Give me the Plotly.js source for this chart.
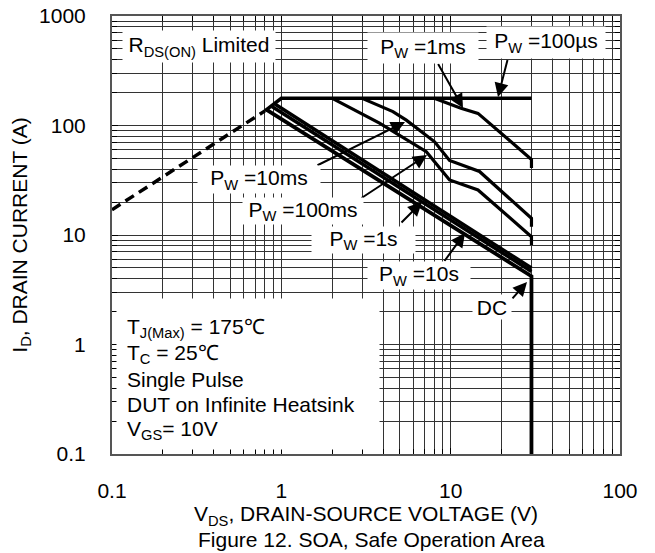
<!DOCTYPE html>
<html><head><meta charset="utf-8">
<script src="https://cdn.plot.ly/plotly-3.0.1.min.js"></script>
<style>html,body{margin:0;padding:0;background:#fff}#chart{width:655px;height:553px}</style>
</head><body><div id="chart"></div>
<script>
// ---- data (V in volts, I in amperes) ----
const rdsLimitV = [0.1, 0.8];
const rdsLimitI = [17, 136];
const pw100usV = [0.8, 1.0, 30];
const pw100usI = [136, 177, 177];
const pw1msV = [8.0, 11.5, 14.5, 30, 30];
const pw1msI = [177, 144, 129, 49, 41];
const pw10msV = [3.0, 4.56, 5.47, 8.04, 9.85, 14.8, 30, 30];
const pw10msI = [177, 134, 112, 71, 48, 38, 14.2, 11.9];
const pw100msV = [2.0, 3.8, 7.18, 9.85, 14.5, 30, 30];
const pw100msI = [177, 105, 57.6, 31.8, 25.8, 9.65, 8.1];
const pw1sV = [0.92, 30];
const pw1sI = [156, 5.0];
const pw10sV = [0.88, 30];
const pw10sI = [149, 4.65];
const dcV = [0.82, 30, 30];
const dcI = [139, 4.2, 0.1];

const xTickVals = [0.1, 1, 10, 100];
const xTickText = ['0.1', '1', '10', '100'];
const yTickVals = [0.1, 1, 10, 100, 1000];
const yTickText = ['0.1', '1', '10', '100', '1000'];
const xMinorVals = [0.2,0.3,0.4,0.5,0.6,0.7,0.8,0.9,2,3,4,5,6,7,8,9,20,30,40,50,60,70,80,90];
const yMinorVals = [0.2,0.3,0.4,0.5,0.6,0.7,0.8,0.9,2,3,4,5,6,7,8,9,20,30,40,50,60,70,80,90,200,300,400,500,600,700,800,900];

// ---- layout helpers (plot area in pixels) ----
const PL = 112, PR = 620, PT = 16, PB = 454;
const px = v => (v - PL) / (PR - PL);
const py = v => (PB - v) / (PB - PT);
const FONT = 'Liberation Sans, Arial, Helvetica, sans-serif';

function line(x, y, w, dash) {
  return {x: x, y: y, type: 'scatter', mode: 'lines', hoverinfo: 'skip',
          line: {color: '#000', width: w, dash: dash || 'solid'}};
}
const traces = [
  line(rdsLimitV, rdsLimitI, 3.5, '10px,6px'),
  line(pw100usV, pw100usI, 3.5),
  line(pw1msV, pw1msI, 3.2),
  line(pw10msV, pw10msI, 3.2),
  line(pw100msV, pw100msI, 3.2),
  line(pw1sV, pw1sI, 3.5),
  line(pw10sV, pw10sI, 3.5),
  line(dcV, dcI, 3.8)
];

// arrows: tail -> head (pixels)
const arrows = [
  [[508, 58], [498, 97]],
  [[437, 62], [463, 108]],
  [[316, 166], [405, 122]],
  [[360, 199], [427, 155]],
  [[400, 224], [422, 202]],
  [[443, 263], [465, 233]],
  [[511, 300], [527, 282]]
];
// labels: text, center px, box w,h
const labels = [
  ['R<sub>DS(ON)</sub> Limited', 199, 46, 152, 31],
  ['P<sub>W</sub> =1ms', 423, 48, 110, 30],
  ['P<sub>W</sub> =100µs', 546, 42, 118, 31],
  ['P<sub>W</sub> =10ms', 259, 179, 122, 27],
  ['P<sub>W</sub> =100ms', 303, 211, 120, 26],
  ['P<sub>W</sub> =1s', 363, 240, 103, 26],
  ['P<sub>W</sub> =10s', 419, 275, 102, 27],
  ['DC', 492, 307, 38, 24]
];
const noteLines = ['T<sub>J(Max)</sub> = 175℃', 'T<sub>C</sub> = 25℃', 'Single Pulse',
                   'DUT on Infinite Heatsink', 'V<sub>GS</sub>= 10V'];

const ann = [];
arrows.forEach(a => {
  ann.push({xref: 'paper', yref: 'paper', x: px(a[1][0]), y: py(a[1][1]),
            ax: a[0][0] - a[1][0], ay: a[0][1] - a[1][1], text: ' ', font: {size: 1},
            showarrow: true, arrowhead: 2, arrowsize: 1.4, arrowwidth: 2, arrowcolor: '#000'});
});
labels.forEach(l => {
  ann.push({xref: 'paper', yref: 'paper', x: px(l[1]), y: py(l[2]), xanchor: 'center', yanchor: 'middle',
            text: l[0], showarrow: false, bgcolor: '#fff', width: l[3], height: l[4], borderpad: 0,
            font: {family: FONT, size: 21, color: '#000'}});
});
// white box behind the notes
ann.push({xref: 'paper', yref: 'paper', x: px(116), y: py(298), xanchor: 'left', yanchor: 'top',
          text: ' ', showarrow: false, bgcolor: '#fff', width: 262, height: 150, borderpad: 0});
noteLines.forEach((t, i) => {
  ann.push({xref: 'paper', yref: 'paper', x: px(125), y: py(328 + i * 25.5), xanchor: 'left', yanchor: 'middle',
            text: t, showarrow: false, font: {family: FONT, size: 21, color: '#000'}});
});
ann.push({xref: 'paper', yref: 'paper', x: 0.51, y: py(539), xanchor: 'center', yanchor: 'middle',
          text: 'Figure 12. SOA, Safe Operation Area', showarrow: false,
          font: {family: FONT, size: 21, color: '#000'}});

const axisCommon = {
  type: 'log', tickmode: 'array', ticks: 'inside', ticklen: 6, tickcolor: '#000', tickwidth: 1,
  showline: true, linecolor: '#555', linewidth: 2, mirror: 'ticks',
  showgrid: true, gridcolor: '#333', gridwidth: 1, zeroline: false,
  tickfont: {family: FONT, size: 21, color: '#000'}
};
const layout = {
  width: 655, height: 553,
  margin: {l: PL, r: 655 - PR, t: PT, b: 553 - PB},
  paper_bgcolor: '#fff', plot_bgcolor: '#fff',
  showlegend: false, hovermode: false,
  font: {family: FONT, size: 21, color: '#000'},
  xaxis: Object.assign({}, axisCommon, {
    range: [-1, 2], tickvals: xTickVals, ticktext: xTickText, ticklabelstandoff: 17,
    minor: {tickmode: 'array', tickvals: xMinorVals, showgrid: true, gridcolor: '#333', gridwidth: 1,
            ticks: 'inside', ticklen: 5, tickcolor: '#000'},
    title: {text: 'V<sub>DS</sub>, DRAIN-SOURCE VOLTAGE (V)', font: {family: FONT, size: 21, color: '#000'}, standoff: 3}
  }),
  yaxis: Object.assign({}, axisCommon, {
    range: [-1, 3], tickvals: yTickVals, ticktext: yTickText, ticklabelstandoff: 20,
    minor: {tickmode: 'array', tickvals: yMinorVals, showgrid: true, gridcolor: '#333', gridwidth: 1,
            ticks: 'inside', ticklen: 5, tickcolor: '#000'},
    title: {text: 'I<sub>D</sub>, DRAIN CURRENT (A)', font: {family: FONT, size: 21, color: '#000'}, standoff: 6}
  }),
  annotations: ann
};
Plotly.newPlot('chart', traces, layout, {displayModeBar: false, staticPlot: true});
</script>
</body></html>
